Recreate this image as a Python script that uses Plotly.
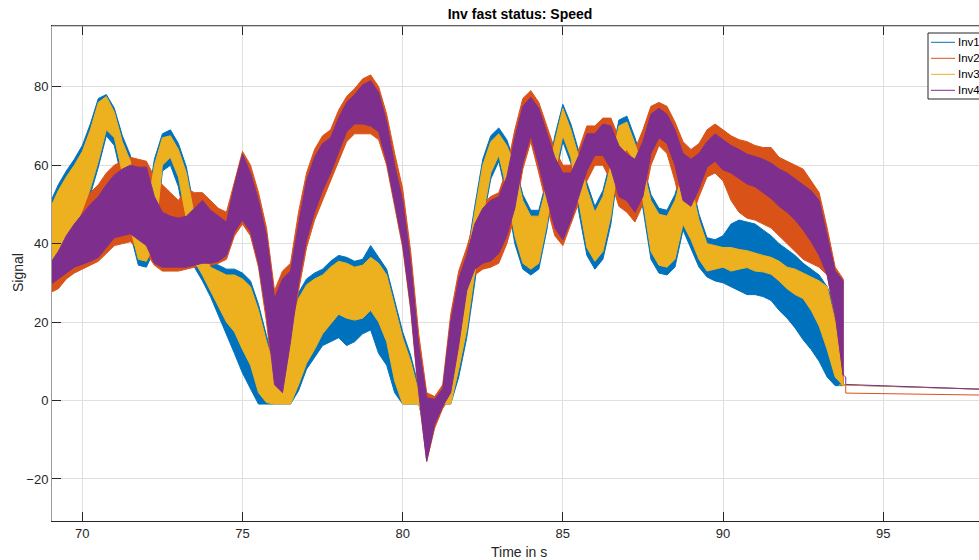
import plotly.graph_objects as go

# ---- sample times (s) ----
t = [69.0, 69.25, 69.5, 69.75, 70.0, 70.25, 70.5, 70.75, 71.0, 71.25,
     71.5, 71.75, 72.0, 72.25, 72.5, 72.75, 73.0, 73.25, 73.5, 73.75,
     74.0, 74.25, 74.5, 74.75, 75.0, 75.25, 75.5, 75.75, 76.0, 76.25,
     76.5, 76.75, 77.0, 77.25, 77.5, 77.75, 78.0, 78.25, 78.5, 78.75,
     79.0, 79.25, 79.5, 79.75, 80.0, 80.25, 80.5, 80.75, 81.0, 81.25,
     81.5, 81.75, 82.0, 82.25, 82.5, 82.75, 83.0, 83.25, 83.5, 83.75,
     84.0, 84.25, 84.5, 84.75, 85.0, 85.25, 85.5, 85.75, 86.0, 86.25,
     86.5, 86.75, 87.0, 87.25, 87.5, 87.75, 88.0, 88.25, 88.5, 88.75,
     89.0, 89.25, 89.5, 89.75, 90.0, 90.25, 90.5, 90.75, 91.0, 91.25,
     91.5, 91.75, 92.0, 92.25, 92.5, 92.75, 93.0, 93.25, 93.5, 93.75]

# ---- upper / lower envelope of each fast-oscillating signal ----
inv1_hi = [50.5, 55, 58.5, 61.5, 65, 70.5, 77, 78,
           74.5, 67.5, 62.5, 50.5, 48.5, 61.5, 68, 69,
           65.5, 59.5, 48.5, 39.5, 35.5, 34.5, 33.5, 33.5,
           32.5, 30.5, 24.5, 16.5, 9.5, 7.5, 18.5, 27.5,
           31, 32.5, 33.5, 35.5, 37, 36.5, 35.5, 36,
           39.5, 36.5, 33.5, 25.5, 17.5, 11.5, 3.5, 1,
           0.5, 2.5, 8.5, 26.5, 36.5, 49.5, 61.5, 67.5,
           69.5, 66.5, 60.5, 52.5, 48.5, 48.5, 56.5, 67.5,
           75.5, 70.5, 63.5, 55.5, 49.5, 53.5, 61.5, 71.5,
           72.5, 67, 60.5, 52.5, 49, 48.5, 52.5, 59.5,
           56.5, 47.5, 41.5, 41, 42, 45, 46, 45.5,
           45, 43.5, 42, 40, 38.5, 37, 35, 33.5,
           32, 29, 24, 4.2]
inv1_lo = [31.5, 34.5, 39.5, 42.5, 47, 52.5, 59.5, 67.5,
           65, 56, 42.5, 34.5, 34, 38.5, 58.5, 60,
           54.5, 43.5, 34, 30.5, 26.5, 22, 17, 12,
           7, 3, -0.9, -0.9, -0.9, -0.9, -0.9, 2.5,
           8, 11, 14, 15, 16, 14, 15, 17,
           18, 12, 9, 2, -0.9, -0.9, -0.9, -9,
           -3.5, -0.9, -0.9, 6, 16, 30, 45.5, 56.5,
           61, 52, 40, 33.5, 32, 33.5, 43.5, 56.5,
           66, 60.5, 48, 37, 33.5, 36, 45, 60.5,
           62.5, 59, 49, 36, 32.5, 32, 34, 43.5,
           39, 34, 31.5, 30.5, 30, 29, 28, 27,
           27, 26.5, 25.5, 23, 21, 18.5, 15.5, 13,
           10, 6, 3.8, 3.8]

inv2_hi = [37, 40, 44, 47, 49.5, 53, 55, 58,
           60, 61, 62, 61.5, 61, 57, 55, 53,
           51, 54, 53, 53, 51, 49, 48, 56,
           63.5, 60, 53, 44, 28, 33, 35, 48,
           58, 64, 67.5, 69, 74, 77.5, 79.5, 82,
           83, 80, 73, 63, 54, 38, 17, 2,
           1, 4, 22, 33, 39, 46, 50, 52,
           53, 59, 69, 77, 79, 76, 70, 64,
           60, 60, 64, 70, 70, 72, 72, 67,
           65, 64, 69, 75, 76, 75, 71, 66,
           64, 65.5, 69, 70.5, 69, 67.5, 66.5, 66,
           65, 64.5, 64.5, 62, 61, 60, 59, 56,
           53, 44, 34, 31]
inv2_lo = [27.5, 28.5, 31, 32.5, 33.5, 34.5, 35.5, 37.5,
           39.5, 40, 40.5, 38.5, 37.5, 34.5, 33, 33,
           33, 33.5, 34, 34.5, 34.5, 35, 36, 42,
           45, 42, 34, 20, 3, 1, 13, 28,
           39, 46, 51.5, 56, 61, 66, 68, 68,
           68, 66.5, 60, 49.5, 39, 23, 1, -15.5,
           -7, -2, 1, 12, 27, 32, 33.5, 34,
           35, 40, 47, 59, 66, 58, 49.5, 42,
           39.5, 44.5, 50.5, 56, 60, 60, 56, 49.5,
           48, 45.5, 50, 60, 65, 63, 56, 47,
           46, 52, 57, 58, 56, 51, 48, 46.5,
           46, 45, 44, 42, 40, 38, 36, 35,
           34, 32, 21, 4]

inv3_hi = [49, 53.5, 57, 60, 63.5, 69, 76, 77.5,
           73.5, 66, 61, 49, 47, 60, 67, 67.5,
           64, 58, 47, 38, 34, 33, 32, 32,
           31, 29, 23, 15, 8, 6, 17, 26,
           29.5, 31, 32, 34, 35.5, 35, 34, 34.5,
           36.5, 35, 32, 24, 16, 10, 2, 0,
           0, 1, 7, 25, 35, 48, 60, 66,
           68, 65, 60, 51, 47, 47, 55, 66,
           74.5, 69, 62, 54, 48, 52, 60, 70,
           71, 65.5, 59, 51, 47.5, 47, 51, 58,
           55, 46, 40, 39.5, 39, 39, 38.5, 38.2,
           37.5, 37, 36.5, 35.5, 34, 33.5, 32.5, 31.5,
           30.5, 29, 20, 4.2]
inv3_lo = [33, 36, 41, 44, 48.5, 54, 61, 69,
           67, 58, 44, 36, 35.5, 40, 60, 62,
           57, 46, 35.5, 32, 28, 24, 20, 17.5,
           13, 9, 2, -0.5, -0.9, -0.9, -0.9, 4,
           9.5, 13, 17, 19.5, 22, 21, 20.5, 21,
           23, 20, 15, 5, -0.9, -0.9, -0.9, -8,
           -3, -0.9, -0.9, 8, 18, 32, 47, 58,
           62.5, 54, 42, 35, 33.5, 35, 45, 58,
           67.5, 62, 50, 39, 35.5, 38, 47, 62,
           64, 61, 51, 38, 34.5, 34, 36, 45,
           41, 36, 33, 33.5, 34, 33, 33.5, 33.9,
           33, 32.8, 32.2, 30.5, 28.5, 27, 26, 23,
           19, 13, 6, 3.8]

inv4_hi = [35, 38, 42, 45, 47.5, 50, 52, 55,
           57.5, 59, 60, 59.5, 59.5, 52, 48, 47,
           46.5, 47, 49, 51, 48.5, 47, 45.5, 55,
           62.8, 58, 51, 42, 26, 31, 33, 45,
           56, 62, 65.5, 67, 72, 76, 78, 80.5,
           81.5, 78.5, 71, 60, 51, 35, 14, 0.7,
           0.3, 3, 20, 31, 37, 45, 49, 51,
           52, 57, 67, 75, 77.3, 74.5, 68, 62,
           58, 58, 62.5, 68, 68, 70.5, 70, 65,
           62.8, 61.5, 66, 73, 74.5, 73, 69, 63,
           61.5, 63, 66, 68, 66.5, 65, 64, 62.8,
           62.2, 61.5, 60.5, 59, 58, 56.5, 55, 53.5,
           51, 42, 33, 30.5]
inv4_lo = [29.5, 31, 32.5, 34, 34.8, 35.5, 36.5, 39,
           41.5, 42, 42.5, 41, 39.5, 35, 34, 34,
           34, 34, 34.5, 35, 35, 35.5, 37, 43,
           46, 43, 35, 22, 4, 2, 15, 30,
           41, 48, 53.5, 58, 63, 68.5, 70.5, 70.5,
           70, 68.5, 61, 50.5, 40, 24, 2, -15.5,
           -6, -1.5, 2, 14, 28, 33.5, 35, 35.6,
           37.5, 42, 49, 60.5, 67.5, 60, 51.5, 44,
           41, 46, 52, 58.6, 62.5, 62.5, 59, 52,
           50.9, 48, 52, 63, 67, 65.5, 60, 51,
           49.5, 54, 59.5, 61, 58.8, 58, 56.5, 55.2,
           54.5, 53, 51.5, 49.5, 48, 46, 43.5, 40.5,
           37, 32, 22, 6.5]

# ---- slow tails after the drive stops ----
inv1_tail_t = [93.63, 93.63, 98.0]
inv1_tail_v = [3.8, 4.0, 2.9]
inv2_tail_t = [93.75, 93.83, 93.83, 98.0]
inv2_tail_v = [4.0, 4.0, 1.9, 1.4]
inv3_tail_t = [93.63, 93.63, 98.0]
inv3_tail_v = [3.8, 4.0, 2.9]
inv4_tail_t = [93.75, 93.83, 93.83, 98.0]
inv4_tail_v = [6.5, 6.0, 4.1, 2.9]

names = ["Inv1", "Inv2", "Inv3", "Inv4"]
colors = ["#0072BD", "#D95319", "#EDB120", "#7E2F8E"]
his = [inv1_hi, inv2_hi, inv3_hi, inv4_hi]
los = [inv1_lo, inv2_lo, inv3_lo, inv4_lo]
tails = [(inv1_tail_t, inv1_tail_v), (inv2_tail_t, inv2_tail_v),
         (inv3_tail_t, inv3_tail_v), (inv4_tail_t, inv4_tail_v)]

fig = go.Figure()
for name, c, hi, lo, (tt, tv) in zip(names, colors, his, los, tails):
    fig.add_trace(go.Scatter(
        x=t + t[::-1], y=hi + lo[::-1], mode="lines", fill="toself",
        fillcolor=c, line=dict(color=c, width=1), name=name,
        showlegend=False, hoverinfo="skip"))
    fig.add_trace(go.Scatter(
        x=tt, y=tv, mode="lines", line=dict(color=c, width=1),
        showlegend=False, hoverinfo="skip"))

FONT = "Liberation Sans, Arial, Helvetica, sans-serif"
TXT = "#262626"

L, R, T, B = 52, 0, 26, 39
W, H = 979, 560
PW, PH = W - L - R, H - T - B


def px(xp):
    return (xp - L) / PW


def py(yp):
    return 1 - (yp - T) / PH


shapes = [
    # top border (gray, like the reference)
    dict(type="line", xref="paper", yref="paper", x0=0, x1=1, y0=1, y1=1,
         line=dict(color="#9a9a9a", width=1), layer="above"),
    # legend box
    dict(type="rect", xref="paper", yref="paper",
         x0=px(928), x1=px(1000), y0=py(33), y1=py(99),
         line=dict(color=TXT, width=1), fillcolor="white", layer="above"),
]
annotations = []
for i, (name, c) in enumerate(zip(names, colors)):
    yy = 42.3 + 16 * i
    shapes.append(dict(type="line", xref="paper", yref="paper",
                       x0=px(931), x1=px(955), y0=py(yy), y1=py(yy),
                       line=dict(color=c, width=1), layer="above"))
    annotations.append(dict(text=name, xref="paper", yref="paper",
                            x=px(956), y=py(yy), xanchor="left",
                            yanchor="middle", showarrow=False,
                            font=dict(family=FONT, size=11.5, color="#000000")))

annotations.append(dict(text="Time in s", xref="paper", yref="paper",
                        x=px(519), y=py(552), xanchor="center",
                        yanchor="middle", showarrow=False,
                        font=dict(family=FONT, size=14, color=TXT)))
annotations.append(dict(text="Signal", xref="paper", yref="paper",
                        x=px(18), y=py(273), xanchor="center",
                        yanchor="middle", showarrow=False, textangle=-90,
                        font=dict(family=FONT, size=14, color=TXT)))

fig.update_layout(
    width=W, height=H,
    margin=dict(l=L, r=R, t=T, b=B, pad=0),
    paper_bgcolor="white", plot_bgcolor="white",
    showlegend=False,
    title=dict(text="<b>Inv fast status: Speed</b>", x=px(520), xref="paper",
               xanchor="center", y=1 - 14 / H, yanchor="middle",
               font=dict(family=FONT, size=14, color="#000000")),
    xaxis=dict(range=[69.054, 97.99], tickvals=[70, 75, 80, 85, 90, 95],
               ticks="inside", ticklen=9, tickwidth=1, tickcolor=TXT,
               showline=True, linecolor=TXT, linewidth=1, mirror="ticks",
               showgrid=True, gridcolor="#dfdfdf", gridwidth=1,
               zeroline=False,
               tickfont=dict(family=FONT, size=13, color=TXT)),
    yaxis=dict(range=[-30.71, 95.48], tickvals=[-20, 0, 20, 40, 60, 80],
               ticks="inside", ticklen=9, tickwidth=1, tickcolor=TXT,
               showline=True, linecolor="#9a9a9a", linewidth=1,
               showgrid=True, gridcolor="#dfdfdf", gridwidth=1,
               zeroline=False,
               tickfont=dict(family=FONT, size=13, color=TXT)),
    shapes=shapes,
    annotations=annotations,
)

fig.write_html("out.html")
